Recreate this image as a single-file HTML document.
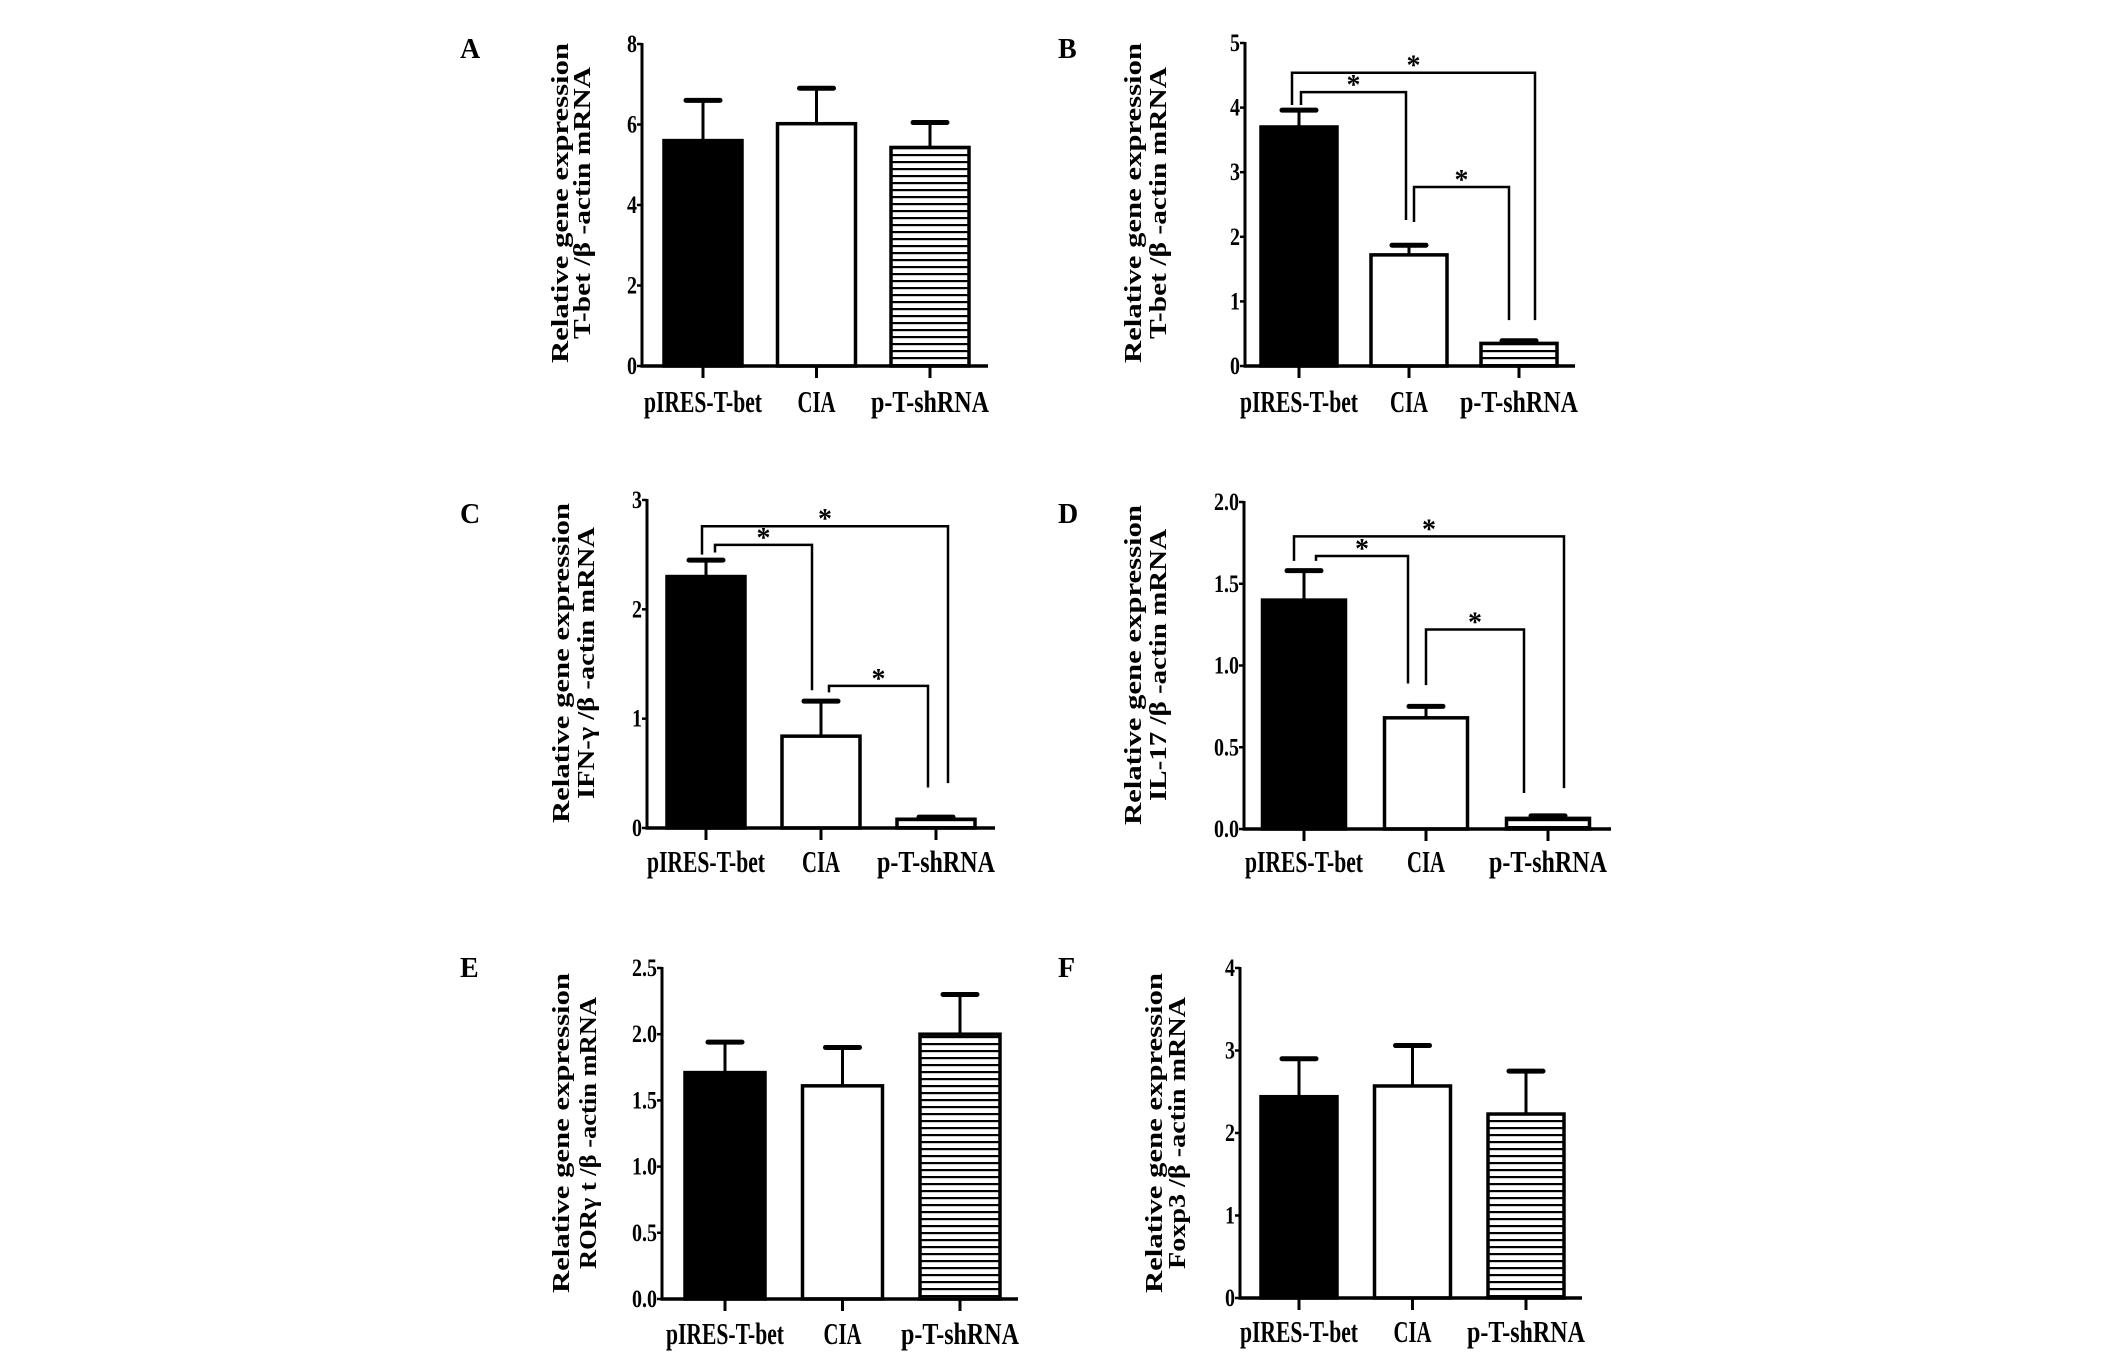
<!DOCTYPE html>
<html><head><meta charset="utf-8"><title>Relative gene expression panels</title>
<style>
html,body{margin:0;padding:0;background:#fff;}
svg{display:block;}
text{font-family:"Liberation Serif",serif;font-weight:bold;fill:#000;}
</style></head>
<body>
<svg id="fig" width="2126" height="1359" viewBox="0 0 2126 1359" xmlns="http://www.w3.org/2000/svg">
<defs>
<pattern id="stripes" patternUnits="userSpaceOnUse" width="10" height="7">
<rect x="0" y="0" width="10" height="7" fill="#fff"/>
<rect x="0" y="0" width="10" height="2.2" fill="#000"/>
</pattern>
</defs>
</svg>
<script>
// ---- data ----
const categories = ["pIRES-T-bet", "CIA", "p-T-shRNA"];
const panelLetters = ["A", "B", "C", "D", "E", "F"];
const yTitles2 = ["T-bet /β -actin mRNA", "T-bet /β -actin mRNA", "IFN-γ /β -actin mRNA", "IL-17 /β -actin mRNA", "RORγ t /β -actin mRNA", "Foxp3 /β -actin mRNA"];
const meansA = [5.6, 6.02, 5.43];
const errsA = [1.0, 0.88, 0.62];
const meansB = [3.70, 1.72, 0.35];
const errsB = [0.26, 0.15, 0.04];
const meansC = [2.30, 0.84, 0.08];
const errsC = [0.15, 0.32, 0.02];
const meansD = [1.40, 0.68, 0.065];
const errsD = [0.18, 0.07, 0.015];
const meansE = [1.71, 1.61, 2.00];
const errsE = [0.23, 0.29, 0.30];
const meansF = [2.44, 2.57, 2.23];
const errsF = [0.46, 0.49, 0.52];
const ticksA = [0, 2, 4, 6, 8];
const ticksB = [0, 1, 2, 3, 4, 5];
const ticksC = [0, 1, 2, 3];
const ticksD = ["0.0", "0.5", "1.0", "1.5", "2.0"];
const ticksE = ["0.0", "0.5", "1.0", "1.5", "2.0", "2.5"];
const ticksF = [0, 1, 2, 3, 4];
// significance brackets: [from, to, level, leftLegEnd, rightLegEnd]
const sigB = [[0, 2, 4.54, 4.04, 0.71], [0, 1, 4.24, 4.04, 2.26], [1, 2, 2.77, 2.23, 0.71]];
const sigC = [[0, 2, 2.76, 2.50, 0.41], [0, 1, 2.59, 2.52, 1.26], [1, 2, 1.30, 1.24, 0.37]];
const sigD = [[0, 2, 1.79, 1.64, 0.25], [0, 1, 1.67, 1.64, 0.89], [1, 2, 1.22, 0.88, 0.22]];
const sigA = [], sigE = [], sigF = [];

// ---- layout (pixel geometry, not data) ----
const layouts = [
 {ax:642, top:44, zero:366, max:8, off:61, step:113.5, bw:78, end:988, letterX:460, letterY:58, t1x:560, t2x:582, tcy:203, catY:412, bdx:[]},
 {ax:1245, top:43, zero:366, max:5, off:54, step:110, bw:76, end:1575, letterX:1058, letterY:58, t1x:1133, t2x:1158, tcy:203, catY:412, bdx:[[-7,16],[2,-3],[5,-10]]},
 {ax:647, top:500, zero:828, max:3, off:59, step:115, bw:78, end:995, letterX:460, letterY:523, t1x:561, t2x:586, tcy:663, catY:872, bdx:[[-4,12],[9,-9],[8,-8]]},
 {ax:1244, top:502, zero:829, max:2, off:60, step:122, bw:83, end:1611, letterX:1058, letterY:523, t1x:1133, t2x:1158, tcy:665, catY:872, bdx:[[-10,16],[12,-18],[0,-24]]},
 {ax:662, top:968, zero:1299, max:2.5, off:63, step:117.5, bw:80, end:1018, letterX:460, letterY:977, t1x:561, t2x:588, tcy:1133, catY:1344, bdx:[]},
 {ax:1240, top:968, zero:1298, max:4, off:59, step:113.5, bw:76, end:1582, letterX:1058, letterY:977, t1x:1154, t2x:1177, tcy:1133, catY:1342, bdx:[]}
];

const allMeans = [meansA, meansB, meansC, meansD, meansE, meansF];
const allErrs = [errsA, errsB, errsC, errsD, errsE, errsF];
const allTicks = [ticksA, ticksB, ticksC, ticksD, ticksE, ticksF];
const allSig = [sigA, sigB, sigC, sigD, sigE, sigF];
const fills = ["#000", "#fff", "url(#stripes)"];

const NS = "http://www.w3.org/2000/svg";
const svg = document.getElementById("fig");
function mk(tag, attrs, parent) {
  const el = document.createElementNS(NS, tag);
  for (const k in attrs) el.setAttribute(k, attrs[k]);
  parent.appendChild(el);
  return el;
}
function line(g, x1, y1, x2, y2, w) {
  return mk("line", {x1:x1, y1:y1, x2:x2, y2:y2, stroke:"#000", "stroke-width":w}, g);
}

layouts.forEach((L, p) => {
  const yScale = v => L.zero - (v / L.max) * (L.zero - L.top);
  const xScale = i => L.ax + L.off + i * L.step;
  const g = mk("g", {}, svg);
  
  

  const lt = mk("text", {x:L.letterX, y:L.letterY, "font-size":28}, g);
  
  
  lt.textContent = panelLetters[p];

  const t1 = mk("text", {x:0, y:0, "font-size":24, "text-anchor":"middle", textLength:320, lengthAdjust:"spacingAndGlyphs",
    transform:"translate(" + (L.t1x + 8) + "," + L.tcy + ") rotate(-90)"}, g);
  
  
  t1.textContent = "Relative gene expression";
  const t2 = mk("text", {x:0, y:0, "font-size":24, "text-anchor":"middle", textLength:272, lengthAdjust:"spacingAndGlyphs",
    transform:"translate(" + (L.t2x + 8) + "," + L.tcy + ") rotate(-90)"}, g);
  
  
  t2.textContent = yTitles2[p];

  allMeans[p].forEach((m, i) => {
    const cx = xScale(i), y = yScale(m), e = yScale(m + allErrs[p][i]);
    const r = mk("rect", {x:cx - L.bw / 2, y:y, width:L.bw, height:L.zero - y, fill:fills[i], stroke:"#000", "stroke-width":3.5}, g);
    
    
    const eb = line(g, cx, y, cx, e, 3);
    
    
    const cap = line(g, cx - 17, e, cx + 17, e, 5);
    
    
    cap.setAttribute('stroke-linecap', 'round');
  });

  const ya = line(g, L.ax, L.top - 1, L.ax, L.zero + 1.5, 3);
  
  
  const xa = line(g, L.ax - 1.5, L.zero, L.end, L.zero, 3.5);
  
  

  allTicks[p].forEach(t => {
    const y = yScale(parseFloat(t));
    line(g, L.ax - 5, y, L.ax, y, 2.5);
    const s = String(t);
    const tt = mk("text", {x:L.ax - 5, y:y + 8, "font-size":25, "text-anchor":"end", textLength:s.length > 1 ? 25 : 10, lengthAdjust:"spacingAndGlyphs"}, g);
    
    
    tt.textContent = s;
  });

  const catW = [118, 38, 118];
  categories.forEach((c, i) => {
    const cx = xScale(i);
    line(g, cx, L.zero, cx, L.zero + 12, 3);
    const ct = mk("text", {x:cx, y:L.catY, "font-size":31, "text-anchor":"middle", textLength:catW[i], lengthAdjust:"spacingAndGlyphs"}, g);
    
    
    ct.textContent = c;
  });

  allSig[p].forEach((s, k) => {
    const d = L.bdx[k] || [0, 0];
    const x1 = xScale(s[0]) + d[0], x2 = xScale(s[1]) + d[1];
    const yl = yScale(s[2]);
    const bg = mk("g", {}, g);
    
    
    mk("path", {d:"M" + x1 + "," + yScale(s[3]) + " L" + x1 + "," + yl + " L" + x2 + "," + yl + " L" + x2 + "," + yScale(s[4]), fill:"none", stroke:"#000", "stroke-width":2.5}, bg);
    const st = mk("text", {x:(x1 + x2) / 2, y:yl + 2, "font-size":28, "text-anchor":"middle"}, bg);
    
    
    st.textContent = "*";
  });
});
</script>
</body></html>
